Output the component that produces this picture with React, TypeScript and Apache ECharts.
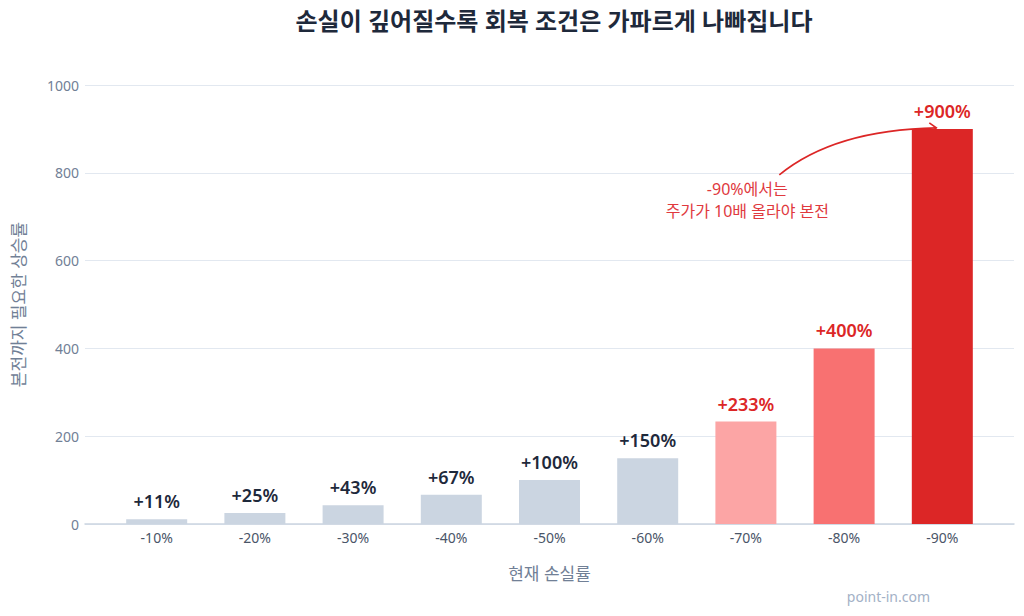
import * as echarts from "echarts";
import { useEffect, useRef } from "react";

const categories = ["-10%", "-20%", "-30%", "-40%", "-50%", "-60%", "-70%", "-80%", "-90%"];
const recoveryValues = [11.1, 25, 42.9, 66.7, 100, 150, 233.3, 400, 900];
const barColors = ["#cbd5e1", "#cbd5e1", "#cbd5e1", "#cbd5e1", "#cbd5e1", "#cbd5e1", "#fca5a5", "#f87171", "#dc2626"];
const labelColors = ["#1e293b", "#1e293b", "#1e293b", "#1e293b", "#1e293b", "#1e293b", "#dc2626", "#dc2626", "#dc2626"];
const yTicks = [0, 200, 400, 600, 800, 1000];

const FONT = "'Noto Sans', 'Noto Sans CJK KR', sans-serif";

export default function App() {
  const ref = useRef<HTMLDivElement | null>(null);

  useEffect(() => {
    document.body.style.margin = "0";
    if (!ref.current) return;
    const chart = echarts.init(ref.current, undefined, { renderer: "svg" });
    chart.setOption({
      animation: false,
      textStyle: { fontFamily: FONT },
      title: {
        text: "손실이 깊어질수록 회복 조건은 가파르게 나빠집니다",
        left: 549,
        top: 3,
        textAlign: "center",
        textStyle: { fontSize: 24, fontWeight: "bold", color: "#1e293b", fontFamily: FONT }
      },
      grid: { left: 85, right: 10, top: 85, bottom: 92 },
      xAxis: {
        type: "value",
        min: -0.73,
        max: 8.73,
        name: "현재 손실률",
        nameLocation: "middle",
        nameGap: 41,
        nameTextStyle: { fontSize: 17, color: "#718096", fontFamily: FONT },
        splitLine: { show: false },
        axisLine: { show: true, lineStyle: { color: "#cbd5e1", width: 1.5 } },
        axisTick: { show: false },
        axisLabel: {
          customValues: categories.map((_, i) => i),
          formatter: (v: number) => categories[Math.round(v)] ?? "",
          color: "#4a5568",
          fontSize: 14,
          margin: 6,
          fontFamily: FONT
        }
      },
      yAxis: {
        type: "value",
        min: yTicks[0],
        max: yTicks[yTicks.length - 1],
        interval: 200,
        name: "본전까지 필요한 상승률",
        nameLocation: "middle",
        nameGap: 58,
        nameTextStyle: { fontSize: 17, color: "#718096", fontFamily: FONT },
        axisLine: { show: false },
        axisTick: { show: false },
        axisLabel: { color: "#718096", fontSize: 14, margin: 6, fontFamily: FONT, formatter: (v: number) => String(v) },
        splitLine: { lineStyle: { color: "#e2e8f0", width: 1 } }
      },
      series: [
        {
          type: "bar",
          barWidth: 61,
          data: recoveryValues.map((v, i) => ({
            value: [i, v],
            itemStyle: { color: barColors[i] },
            label: { color: labelColors[i] }
          })),
          label: {
            show: true,
            position: "top",
            distance: 9,
            fontSize: 18,
            fontWeight: 600,
            fontFamily: FONT,
            formatter: (p: any) => `+${Math.round(p.value[1])}%`
          }
        }
      ]
    });

    const top = chart.convertToPixel({ gridIndex: 0 }, [8, 900]) as number[];
    const ex = top[0] - 6;
    const ey = top[1] - 1;
    const sx = ex - 157;
    const sy = ey + 47;
    chart.setOption({
      graphic: [
        {
          type: "bezierCurve",
          shape: { x1: sx, y1: sy, cpx1: sx + 55, cpy1: ey + 2, x2: ex, y2: ey },
          style: { stroke: "#dc2626", lineWidth: 1.6, fill: "none" }
        },
        {
          type: "polyline",
          shape: { points: [[ex - 7, ey - 5], [ex, ey], [ex - 6, ey + 5]] },
          style: { stroke: "#dc2626", lineWidth: 1.6, fill: "none" }
        },
        {
          type: "text",
          x: sx - 32,
          y: sy + 3,
          style: {
            text: "-90%에서는\n주가가 10배 올라야 본전",
            fill: "#e0393e",
            fontSize: 16,
            lineHeight: 22,
            align: "center",
            fontFamily: FONT
          }
        },
        {
          type: "text",
          right: 94,
          top: 589,
          style: { text: "point-in.com", fill: "#a3b1c6", fontSize: 14, fontFamily: FONT }
        }
      ]
    });
    return () => chart.dispose();
  }, []);

  return <div ref={ref} style={{ width: 1024, height: 616 }} />;
}
